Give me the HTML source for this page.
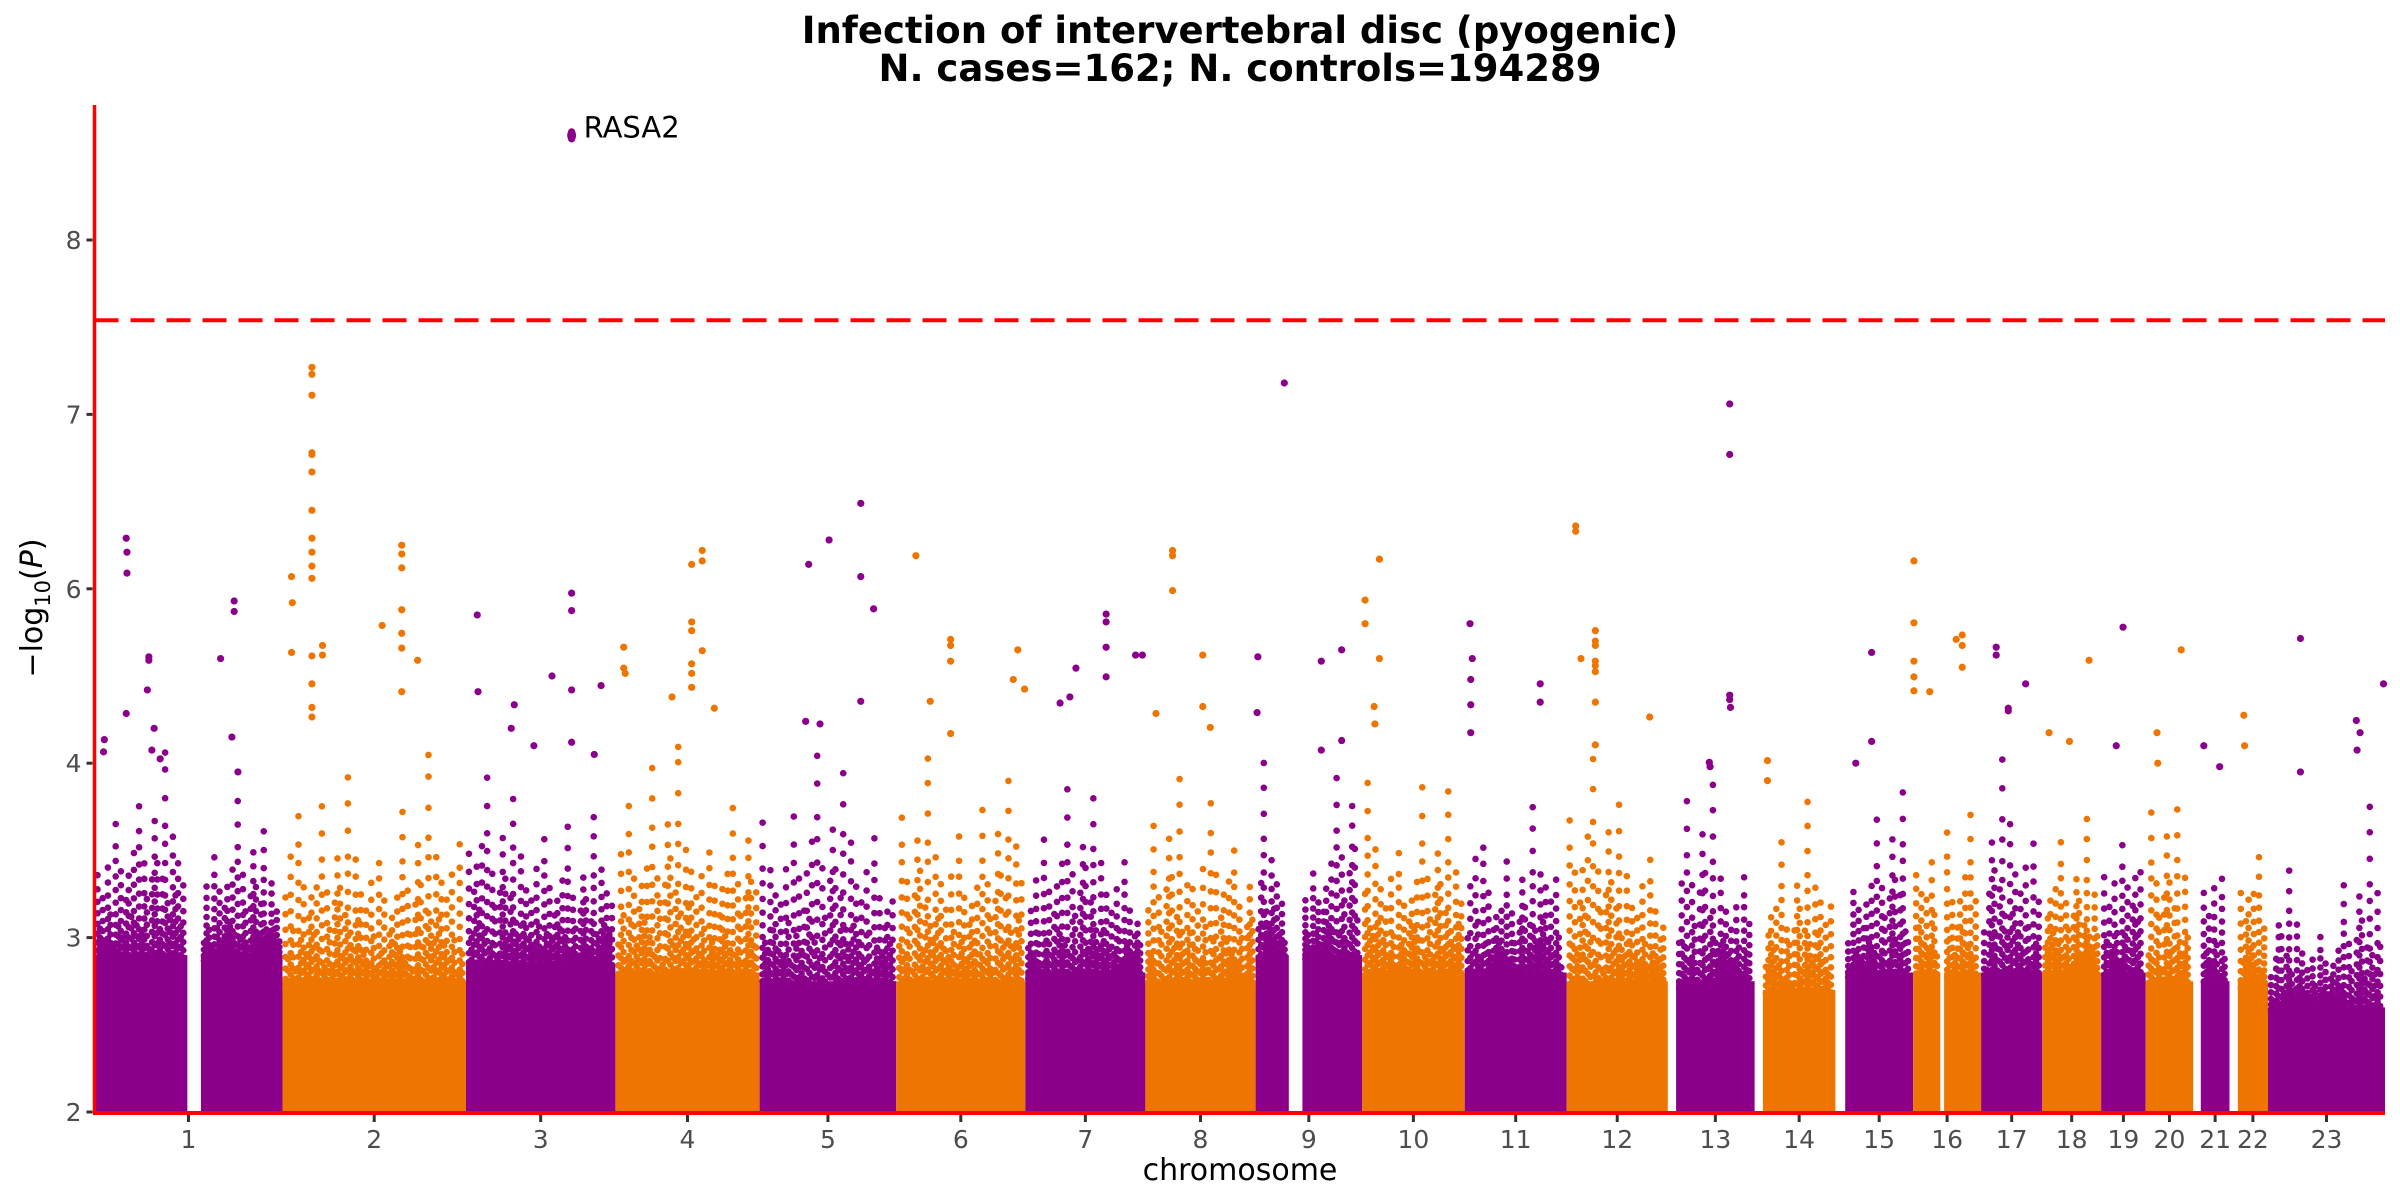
<!DOCTYPE html>
<html><head><meta charset="utf-8">
<style>
html,body{margin:0;padding:0;background:#fff;}
svg{display:block;}
text{font-family:"DejaVu Sans","Liberation Sans",sans-serif;}
</style></head>
<body>
<svg id="chart" width="2400" height="1200" viewBox="0 0 2400 1200" xmlns="http://www.w3.org/2000/svg">
  <g>
    <text x="1240" y="43" text-anchor="middle" font-size="37" font-weight="bold" fill="#000">Infection of intervertebral disc (pyogenic)</text>
    <text x="1240" y="81" text-anchor="middle" font-size="37" font-weight="bold" fill="#000">N. cases=162; N. controls=194289</text>
  </g>
  <g id="bands"></g>
  <g id="cloud"></g>
  <g id="peaks"></g>
  <g id="axes"></g>
  <text x="1240" y="1180" text-anchor="middle" font-size="30" fill="#000">chromosome</text>
  <text transform="translate(42,608) rotate(-90)" text-anchor="middle" font-size="30" fill="#000">−log<tspan font-size="21" dy="8">10</tspan><tspan dy="-8">(</tspan><tspan font-style="italic">P</tspan>)</text>
</svg>
<script>
// ---- data ----
const chrNames = ["1","2","3","4","5","6","7","8","9","10","11","12","13","14","15","16","17","18","19","20","21","22","23"];
const chrSizes = [249,243,198,191,181,171,159,146,141,136,135,134,115,107,103,90,81,78,59,63,48,51,155];
const chrDataStart = [0,0,0,0,0,0,0,0,0,0,0,0,11,11,13,0,0,0,0,0,10,11,0];
const chrGaps = [[123,141],null,null,null,null,null,null,null,[44,62],null,null,null,null,null,null,[36,41],null,null,null,null,null,null,null];
const solidTop = [2.9,2.75,2.85,2.8,2.75,2.75,2.8,2.75,2.9,2.8,2.8,2.75,2.75,2.7,2.8,2.8,2.8,2.8,2.8,2.75,2.75,2.75,2.6];
const envelope = [
 [3.4,3.5,3.6,3.3,3.5,3.2],[3.5,3.4,3.4,3.3,3.5,3.3],[3.6,3.5,3.4,3.4,3.3,3.4],[3.5,3.5,3.6,3.4,3.4,3.5],
 [3.3,3.4,3.6,3.5,3.4,3.3],[3.4,3.5,3.4,3.3,3.5,3.4],[3.3,3.4,3.5,3.4,3.3,3.2],[3.2,3.5,3.3,3.5,3.3,3.2],
 [3.6,3.4,3.2,3.3,3.6,3.7],[3.5,3.4,3.3,3.5,3.4,3.3],[3.6,3.4,3.2,3.3,3.4,3.3],[3.4,3.6,3.5,3.3,3.3,3.2],
 [3.2,3.4,3.5,3.3,3.2,3.2],[3.4,3.3,3.2,3.3,3.3,3.2],[3.4,3.2,3.3,3.4,3.5,3.3],[3.3,3.4,3.5,3.3,3.4,3.3],
 [3.3,3.5,3.6,3.5,3.4,3.3],[3.4,3.4,3.3,3.3,3.3,3.2],[3.5,3.4,3.3,3.4,3.5,3.3],[3.3,3.4,3.5,3.4,3.3,3.2],
 [3.4,3.4,3.3,3.3,3.2,3.2],[3.3,3.4,3.4,3.3,3.2,3.1],[3.0,3.1,2.9,3.0,3.2,3.3]];
const peakChr = [
 1,1,1,1,1,1,1,1,1,1,1,1,1,1,1,1,1,
 2,2,2,2,2,2,2,2,2,2,2,2,2,2,2,2,2,2,2,2,2,2,2,2,2,2,2,2,2,
 3,3,3,3,3,3,3,3,3,3,3,3,3,3,
 4,4,4,4,4,4,4,4,4,4,4,4,4,4,
 5,5,5,5,5,5,5,5,
 6,6,6,6,6,6,6,6,6,
 7,7,7,7,7,7,7,7,7,
 8,8,8,8,8,8,8,
 9,9,9,9,9,9,9,
 10,10,10,10,10,10,
 11,11,11,11,11,11,11,
 12,12,12,12,12,12,12,12,12,12,12,12,
 13,13,13,13,13,13,13,
 14,14,
 15,15,15,
 16,16,16,16,16,16,16,16,16,16,
 17,17,17,17,17,
 18,18,18,
 19,19,
 20,20,20,
 21,21,
 22,22,
 23,23,23,23,23,23];
const peakPos = [
 42,43,43,72,72,70,42,13,12,79,76,87,185,185,167,182,190,
 39,39,39,39,39,39,39,39,39,39,39,39,39,39,39,12,13,12,53,53,158,158,158,158,158,158,158,179,132,
 15,140,140,140,140,140,140,114,16,179,64,60,90,170,
 115,115,101,101,101,101,101,101,115,11,11,13,75,131,
 92,65,134,134,151,134,61,80,
 26,72,72,72,161,155,45,72,170,
 107,107,107,107,67,146,155,59,46,
 36,36,36,76,86,76,14,
 38,3,87,114,87,2,114,
 4,4,23,23,16,17,
 7,10,8,8,8,100,100,
 12,12,38,38,38,38,38,38,19,38,38,110,
 82,82,82,82,83,55,56,
 17,17,
 48,48,27,
 1,1,1,1,1,22,65,65,65,57,
 20,20,36,36,59,
 62,36,9,
 29,20,
 47,15,16,
 14,35,
 19,20,
 43,153,117,122,118,43];
const peakVal = [
 6.29,6.21,6.09,5.22,5.18,4.84,4.57,4.27,4.13,4.4,4.15,4.05,5.86,5.74,5.2,4.3,3.95,
 7.27,7.23,7.11,6.78,6.77,6.67,6.45,6.29,6.21,6.13,6.06,5.23,4.91,4.64,4.53,6.07,5.84,5.27,5.35,5.24,6.25,6.2,6.12,5.76,5.49,5.32,4.82,5.18,5.58,
 5.7,8.62,8.58,5.95,5.75,4.84,4.24,5.0,4.82,4.89,4.67,4.4,4.2,4.1,
 6.22,6.16,6.14,5.62,5.52,5.14,5.03,4.87,5.29,5.33,5.09,5.03,4.76,4.63,
 6.28,6.14,6.07,6.49,5.77,4.71,4.48,4.45,
 6.19,5.42,5.35,5.17,5.3,4.96,4.71,4.34,4.85,
 5.71,5.62,5.33,4.99,5.09,5.24,5.24,4.76,4.69,
 6.22,6.19,5.98,5.24,4.41,4.65,4.57,
 7.18,5.22,5.17,5.3,4.15,4.58,4.26,
 5.87,5.6,6.17,5.2,4.65,4.45,
 5.6,5.2,4.96,4.67,4.35,4.91,4.7,
 6.36,6.33,5.52,5.35,5.17,5.12,5.05,4.7,5.2,4.21,5.4,4.53,
 7.06,6.77,4.78,4.73,4.64,4.01,3.98,
 4.03,3.9,
 5.27,4.25,4.0,
 6.16,5.61,5.17,4.99,4.83,4.82,5.47,5.35,5.1,5.42,
 5.33,5.24,4.63,4.6,4.91,
 5.18,4.25,4.35,
 5.56,4.2,
 5.3,4.35,4.0,
 4.2,3.98,
 4.55,4.2,
 5.43,4.91,4.49,4.35,4.15,3.95];
const yTicks = [2,3,4,6,7,8];
const threshold = 7.54;
const annotChr = 3, annotPos = 140, annotVal = 8.6, annotLabel = "RASA2";

// ---- scales ----
const NS = "http://www.w3.org/2000/svg";
const X0 = 94.5, X1 = 2385, Y0 = 1112, UNIT = 174.4;
const cum = []; let tot = 0;
for (let i = 0; i < chrSizes.length; i++) { cum.push(tot); tot += chrSizes[i]; }
function xs(chr, mb) { return X0 + (cum[chr-1] + mb) / tot * (X1 - X0); }
function yu(v) { return v <= 4 ? v - 2 : (v <= 6 ? 2 + (v - 4) / 2 : 3 + (v - 6)); }
function ys(v) { return Y0 - yu(v) * UNIT; }
function mk(tag, attrs, parent) {
  const e = document.createElementNS(NS, tag);
  for (const k in attrs) e.setAttribute(k, attrs[k]);
  parent.appendChild(e); return e;
}
const COLORS = ["#8B008B", "#EE7600"];
const bands = document.getElementById('bands');
const cloud = document.getElementById('cloud');
const peaks = document.getElementById('peaks');
const axes = document.getElementById('axes');
const R = 3.3;

// ---- dense bands + cloud (texture pattern, not data) ----
const pattern = [1,.42,.83,.3,1.1,.58,.22,1.45,.47,.95,.33,.66,.88,.51,1.05,.39,1.7,.27,.92,.6,.18,.81,1.3,1.0,.36,.74,1.9,.55,.4,1.2,.62];
const shift = [0,.05,.02,.08,.03,.07,.01,.06,.04,.09,.025,.055,.015];
const tvals = [0,.07,.15,.24,.34,.45,.57,.7,.84,1,1.15,1.38,1.62,1.85];
let col = 0;
for (let c = 1; c <= chrSizes.length; c++) {
  const color = COLORS[(c + 1) % 2];
  const segs = [];
  const g = chrGaps[c-1];
  if (g) { segs.push([chrDataStart[c-1], g[0]]); segs.push([g[1], chrSizes[c-1]]); }
  else segs.push([chrDataStart[c-1], chrSizes[c-1]]);
  const yTop = ys(solidTop[c-1]);
  segs.forEach(s => {
    const xa = xs(c, s[0]), xb = xs(c, s[1]);
    const r = mk('rect', {x: xa, y: yTop, width: Math.max(0, xb - xa), height: Y0 - yTop, fill: color}, bands);
    
    
    const env = envelope[c-1];
    for (let x = xa + 3; x <= xb - 3; x += 2.6) {
      const f = (x - xs(c, 0)) / (xs(c, chrSizes[c-1]) - xs(c, 0)) * (env.length - 1);
      const i0 = Math.max(0, Math.min(env.length - 2, Math.floor(f)));
      const fr = Math.max(0, Math.min(1, f - i0));
      const ev = env[i0] * (1 - fr) + env[i0 + 1] * fr;
      const h = pattern[col % pattern.length];
      const sh = shift[col % shift.length];
      col++;
      for (const t0 of tvals) {
        const t = t0 + sh;
        if (t > h) break;
        const v = solidTop[c-1] - 0.05 + (ev - solidTop[c-1]) * t;
        const d = mk('circle', {cx: x, cy: ys(v), r: R, fill: color}, cloud);
        
        
      }
    }
  });
}

// ---- peak points ----
for (let i = 0; i < peakChr.length; i++) {
  const c = peakChr[i];
  const p = mk('circle', {cx: xs(c, peakPos[i]), cy: ys(peakVal[i]), r: R + 0.3, fill: COLORS[(c + 1) % 2]}, peaks);
  
  
}

// annotation
const ax = xs(annotChr, annotPos), ay = ys(annotVal);
const ap = mk('ellipse', {cx: ax, cy: ay, rx: 4.5, ry: 6, fill: COLORS[0]}, peaks);


const at = mk('text', {x: ax + 12, y: ay + 2, 'font-size': 29, fill: '#000'}, peaks);
at.textContent = annotLabel;



// ---- axes ----
const thr = mk('line', {x1: X0, x2: X1, y1: ys(threshold), y2: ys(threshold), stroke: '#FF0000', 'stroke-width': 4, 'stroke-dasharray': '24 12'}, axes);


const yl = mk('line', {x1: X0, x2: X0, y1: 105, y2: Y0 + 2, stroke: '#FF0000', 'stroke-width': 3.5}, axes);


const xl = mk('line', {x1: X0 - 1.5, x2: X1, y1: Y0 + 1, y2: Y0 + 1, stroke: '#FF0000', 'stroke-width': 4}, axes);


yTicks.forEach(v => {
  const y = ys(v);
  const t = mk('line', {x1: X0 - 8, x2: X0 - 2, y1: y, y2: y, stroke: '#333', 'stroke-width': 3}, axes);
  
  
  const l = mk('text', {x: X0 - 13, y: y + 9, 'text-anchor': 'end', 'font-size': 25, fill: '#4d4d4d'}, axes);
  l.textContent = v;
  
  
});
for (let c = 1; c <= chrSizes.length; c++) {
  const x = xs(c, (chrDataStart[c-1] + chrSizes[c-1]) / 2);
  const t = mk('line', {x1: x, x2: x, y1: Y0 + 3, y2: Y0 + 10, stroke: '#333', 'stroke-width': 3}, axes);
  
  
  const l = mk('text', {x: x, y: Y0 + 36, 'text-anchor': 'middle', 'font-size': 25, fill: '#4d4d4d'}, axes);
  l.textContent = chrNames[c-1];
  
  
}
</script>
</body></html>
